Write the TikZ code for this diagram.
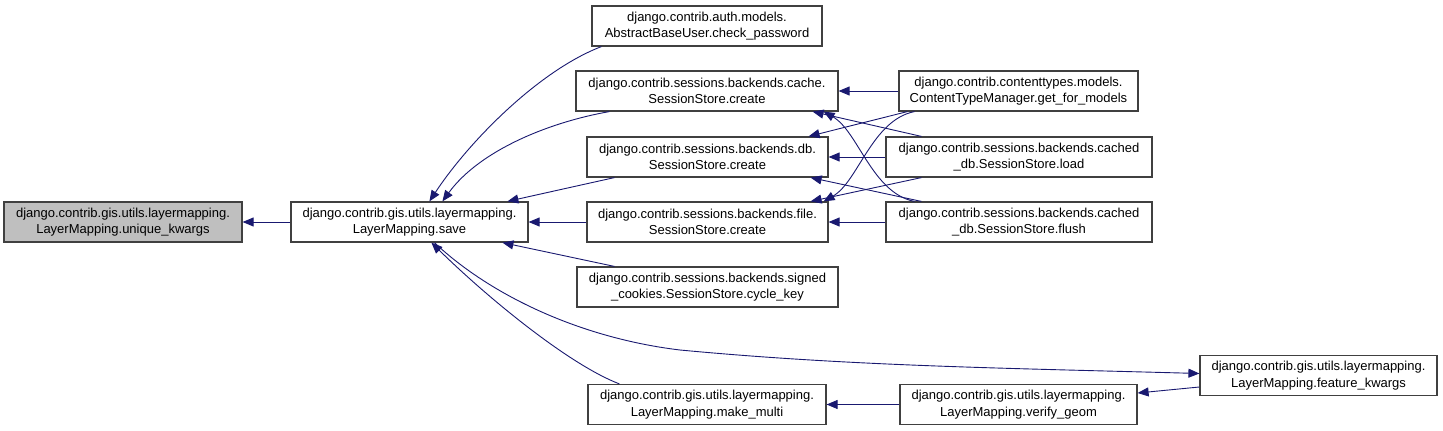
\documentclass[tikz,border=0pt]{standalone}
\usepackage{fontspec}
\setmainfont{Liberation Sans}
\usetikzlibrary{arrows.meta}
\definecolor{edgec}{HTML}{191970}
\definecolor{boxc}{HTML}{404040}
\definecolor{hl}{HTML}{BFBFBF}
\tikzset{
  fn/.style={draw=boxc, line width=1.2pt, fill=white, minimum height=40pt, inner sep=0pt, align=center,
    font=\fontsize{13}{16.5}\selectfont},
  cur/.style={fn, fill=hl},
  edge/.style={draw=edgec, line width=0.9pt, -{Triangle[length=11pt,width=9pt]}},
}
\begin{document}
\begin{tikzpicture}[x=1pt,y=-1pt]
\useasboundingbox (0,0) rectangle (1443,431);
\node[cur, minimum width=238pt] (uk) at (123,222) {django.contrib.gis.utils.layermapping.\\LayerMapping.unique\_kwargs};
\node[fn, minimum width=237pt] (save) at (409.5,222) {django.contrib.gis.utils.layermapping.\\LayerMapping.save};
\node[fn, minimum width=230pt] (cp) at (707,26) {django.contrib.auth.models.\\AbstractBaseUser.check\_password};
\node[fn, minimum width=262pt] (cc) at (707,91) {django.contrib.sessions.backends.cache.\\SessionStore.create};
\node[fn, minimum width=241pt] (dc) at (707.5,157) {django.contrib.sessions.backends.db.\\SessionStore.create};
\node[fn, minimum width=241pt] (fc) at (707.5,222) {django.contrib.sessions.backends.file.\\SessionStore.create};
\node[fn, minimum width=261pt] (ck) at (707.5,287) {django.contrib.sessions.backends.signed\\\_cookies.SessionStore.cycle\_key};
\node[fn, minimum width=238pt] (mm) at (707,404.5) {django.contrib.gis.utils.layermapping.\\LayerMapping.make\_multi};
\node[fn, minimum width=239pt] (gm) at (1018.5,91) {django.contrib.contenttypes.models.\\ContentTypeManager.get\_for\_models};
\node[fn, minimum width=266pt] (ld) at (1019,157) {django.contrib.sessions.backends.cached\\\_db.SessionStore.load};
\node[fn, minimum width=266pt] (fl) at (1019,222) {django.contrib.sessions.backends.cached\\\_db.SessionStore.flush};
\node[fn, minimum width=237pt] (vg) at (1018.5,404.5) {django.contrib.gis.utils.layermapping.\\LayerMapping.verify\_geom};
\node[fn, minimum width=237pt] (fk) at (1318.5,375.5) {django.contrib.gis.utils.layermapping.\\LayerMapping.feature\_kwargs};

% edges into save
\draw[edge] (save.west) -- (uk.east);
\draw[edge] ([xshift=10pt]cp.south west) .. controls (540,70) and (470,140) .. ([xshift=139pt]save.north west);
\draw[edge] ([xshift=34pt]cc.south west) .. controls (550,122) and (480,150) .. ([xshift=152pt]save.north west);
\draw[edge] ([xshift=28pt]dc.south west) -- ([xshift=217pt]save.north west);
\draw[edge] (fc.west) -- (save.east);
\draw[edge] ([xshift=38pt]ck.north west) -- ([xshift=212pt]save.south west);
\draw[edge] ([xshift=32pt]mm.north west) .. controls (570,365) and (490,300) .. ([xshift=141pt]save.south west);
\draw[edge] ([xshift=144pt]save.south west) .. controls (490,295) and (580,338) .. (680,350)
   .. controls (850,366) and (1000,368) .. ([yshift=2pt]fk.west);

% right column into middle column
\draw[edge] (gm.west) -- (cc.east);
\draw[edge] ([xshift=9pt]gm.south west) -- ([xshift=-20pt]dc.north east);
\draw[edge] ([xshift=16pt]gm.south west) .. controls (872,120) and (858,182) .. ([xshift=-5pt]fc.north east);
\draw[edge] ([xshift=36pt]ld.north west) -- ([xshift=-26pt]cc.south east);
\draw[edge] (ld.west) -- (dc.east);
\draw[edge] ([xshift=36pt]ld.south west) -- ([xshift=-18pt]fc.north east);
\draw[edge] ([xshift=29pt]fl.north west) .. controls (872,193) and (858,131) .. ([xshift=-15pt]cc.south east);
\draw[edge] ([xshift=36pt]fl.north west) -- ([xshift=-18pt]dc.south east);
\draw[edge] (fl.west) -- (fc.east);
\draw[edge] (vg.west) -- (mm.east);
\draw[edge] ([yshift=-11.5pt]fk.west) -- ([yshift=11.5pt]vg.east);
\end{tikzpicture}
\end{document}
